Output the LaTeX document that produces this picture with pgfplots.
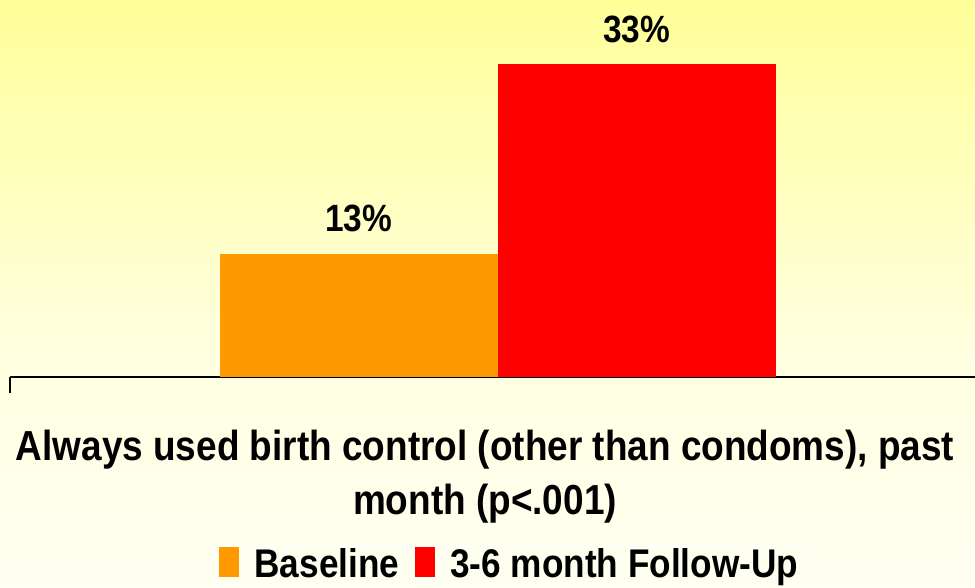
\documentclass[border=0pt]{standalone}
\usepackage{pgfplots}
\pgfplotsset{compat=1.18}
\usepackage{fontspec}
\setmainfont{Liberation Sans}[FakeStretch=0.88]

\definecolor{barorange}{HTML}{FF9900}
\definecolor{barred}{HTML}{FF0000}
\definecolor{bgtop}{HTML}{FFFF99}
\definecolor{bgmid}{HTML}{FFFFE0}
\definecolor{bgbot}{HTML}{FFFFF2}
\pgfdeclareverticalshading{bgfade}{100bp}{color(0bp)=(bgbot); color(25bp)=(bgbot); color(45bp)=(bgmid); color(75bp)=(bgtop); color(100bp)=(bgtop)}

\begin{document}
\begin{tikzpicture}
\path[use as bounding box] (0,0) rectangle (975pt,588pt);
\shade[shading=bgfade] (0,0) rectangle (975pt,588pt);
\begin{axis}[
  at={(10pt,211pt)}, anchor=south west,
  scale only axis, width=965pt, height=377pt,
  xmin=-487.5, xmax=477.5,
  ymin=0, ymax=39.75,
  ybar=0pt, bar width=278,
  axis x line=bottom, axis y line=none,
  axis line style={-, black, line width=1.8pt},
  xtick={-487.5}, xticklabels={},
  tick style={black, line width=1.5pt},
  tick align=outside, major tick length=16pt,
  ytick=\empty,
  clip=false,
  /pgf/number format/assume math mode=true,
  nodes near coords={\pgfmathprintnumber{\pgfplotspointmeta}\%},
  every node near coord/.append style={font=\fontsize{38}{44}\selectfont\bfseries, black, yshift=18pt},
  xlabel={Always used birth control (other than condoms), past\\month (p<.001)},
  xlabel style={font=\fontsize{42}{54}\selectfont\bfseries, align=center,
    at={(axis description cs:0.4922,0)}, anchor=north, yshift=-50pt},
  legend columns=2,
  legend style={at={(0.518,-0.445)}, anchor=north, draw=white, fill=none,
    font=\fontsize{40}{48}\selectfont\bfseries,
    /tikz/every odd column/.append style={column sep=13pt},
    /tikz/every even column/.append style={column sep=14pt}},
  legend image code/.code={\fill[#1] (0pt,-13pt) rectangle (20pt,17pt);},
]
\addplot[fill=barorange, draw=none] coordinates {(0,13)};
\addplot[fill=barred, draw=none] coordinates {(0,33)};
\legend{Baseline, 3-6 month Follow-Up}
\end{axis}
\end{tikzpicture}
\end{document}
